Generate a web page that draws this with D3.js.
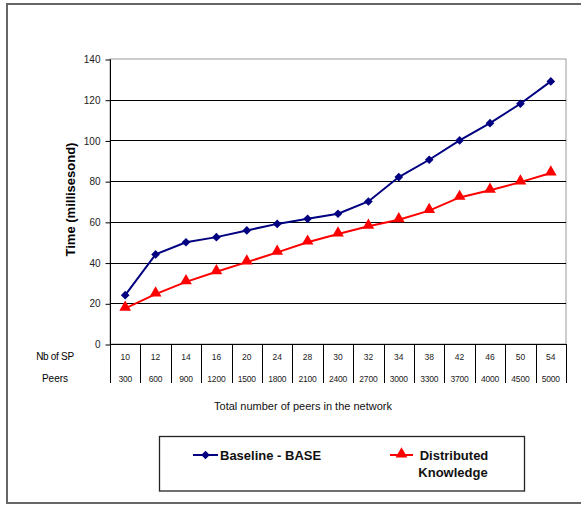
<!DOCTYPE html>
<html>
<head>
<meta charset="utf-8">
<script src="https://cdn.jsdelivr.net/npm/d3@7"></script>
<style>
  html, body { margin: 0; padding: 0; background: #fff; }
  svg { display: block; }
  text { font-family: "Liberation Sans", Arial, sans-serif; }
</style>
</head>
<body>
<svg id="chart" width="581" height="505"></svg>
<script>
// ---- Data ----
const nbSP = ["10","12","14","16","20","24","28","30","32","34","38","42","46","50","54"];
const peers = ["300","600","900","1200","1500","1800","2100","2400","2700","3000","3300","3700","4000","4500","5000"];
const baseline = [24, 44, 50, 52.5, 55.8, 59, 61.5, 64, 70, 82, 90.5, 100, 108.5, 118, 129];
const distributed = [17.5, 24.5, 30.5, 35.5, 40.2, 45, 50, 54, 57.8, 61, 65.5, 72, 75.5, 79.5, 84];
const yTicks = [0, 20, 40, 60, 80, 100, 120, 140];
const seriesNames = ["Baseline - BASE", "Distributed Knowledge"];

// ---- Layout ----
const svg = d3.select("#chart");
const plot = { left: 110, right: 566, top: 59, bottom: 344 };

const x = d3.scaleBand().domain(d3.range(nbSP.length)).range([plot.left, plot.right]).padding(0);
const y = d3.scaleLinear().domain([0, 140]).range([plot.bottom, plot.top]);

// outer frame
svg.append("rect")
  .attr("x", 7).attr("y", 4).attr("width", 600).attr("height", 499)
  .attr("fill", "none").attr("stroke", "#666").attr("stroke-width", 2);

// plot area border (gray)
svg.append("rect")
  .attr("x", plot.left).attr("y", plot.top)
  .attr("width", plot.right - plot.left).attr("height", plot.bottom - plot.top)
  .attr("fill", "none").attr("stroke", "#9a9a9a").attr("stroke-width", 1);

// gridlines
svg.append("g").selectAll("line")
  .data(yTicks.filter(d => d > 0 && d < 140))
  .join("line")
  .attr("x1", plot.left).attr("x2", plot.right)
  .attr("y1", d => Math.round(y(d)) + 0.5).attr("y2", d => Math.round(y(d)) + 0.5)
  .attr("stroke", "#000").attr("stroke-width", 1);

// y axis
const yAxis = d3.axisLeft(y).tickValues(yTicks).tickSize(5).tickPadding(5).tickFormat(d3.format("d"));
const gy = svg.append("g").attr("transform", `translate(${plot.left + 0.5},0.5)`).call(yAxis);
gy.select(".domain").attr("stroke", "#000").attr("d", `M0,${plot.top}V${plot.bottom}`);
gy.selectAll(".tick line").attr("stroke", "#000");
gy.selectAll(".tick text").attr("font-size", 10).attr("fill", "#222")
  .style("font-family", "'Liberation Sans', Arial, sans-serif");

// x axis baseline
svg.append("line")
  .attr("x1", plot.left).attr("x2", plot.right)
  .attr("y1", plot.bottom + 0.5).attr("y2", plot.bottom + 0.5)
  .attr("stroke", "#000").attr("stroke-width", 1.2);

// data table dividers
const dividers = d3.range(nbSP.length + 1).map(i => i < nbSP.length ? x(i) : plot.right);
svg.append("g").selectAll("line")
  .data(dividers)
  .join("line")
  .attr("x1", d => Math.round(d) + 0.5).attr("x2", d => Math.round(d) + 0.5)
  .attr("y1", plot.bottom).attr("y2", 383)
  .attr("stroke", "#000").attr("stroke-width", 1);

// table values
svg.append("g").selectAll("text")
  .data(nbSP)
  .join("text")
  .attr("x", (d, i) => x(i) + x.bandwidth() / 2)
  .attr("y", 360)
  .attr("text-anchor", "middle")
  .attr("font-size", 8.5).attr("fill", "#222")
  .text(d => d);
svg.append("g").selectAll("text")
  .data(peers)
  .join("text")
  .attr("x", (d, i) => x(i) + x.bandwidth() / 2)
  .attr("y", 382)
  .attr("text-anchor", "middle")
  .attr("font-size", 8.5).attr("fill", "#222")
  .attr("letter-spacing", "-0.2")
  .text(d => d);

// row labels
svg.append("text").attr("x", 55).attr("y", 360).attr("text-anchor", "middle")
  .attr("font-size", 10).attr("fill", "#000").attr("letter-spacing", "-0.3").text("Nb of SP");
svg.append("text").attr("x", 55).attr("y", 382).attr("text-anchor", "middle")
  .attr("font-size", 10).attr("fill", "#000").text("Peers");

// axis titles
svg.append("text").attr("x", 303).attr("y", 409.5).attr("text-anchor", "middle")
  .attr("font-size", 11).attr("fill", "#111")
  .text("Total number of peers in the network");
svg.append("text")
  .attr("transform", `translate(75,${(plot.top + plot.bottom) / 2 - 2}) rotate(-90)`)
  .attr("text-anchor", "middle").attr("font-size", 13).attr("font-weight", "bold").attr("fill", "#000")
  .text("Time (millisesond)");

// series
const cx = i => x(i) + x.bandwidth() / 2;
const line = d3.line().x((d, i) => cx(i)).y(d => y(d));

const blue = "#000080", red = "#ff0000";

svg.append("path").datum(baseline).attr("d", line)
  .attr("fill", "none").attr("stroke", blue).attr("stroke-width", 2);
svg.append("path").datum(distributed).attr("d", line)
  .attr("fill", "none").attr("stroke", red).attr("stroke-width", 2);

const diamond = d3.symbol().type(d3.symbolDiamond2).size(48);
const triangle = d3.symbol().type(d3.symbolTriangle).size(60);

svg.append("g").selectAll("path")
  .data(baseline).join("path")
  .attr("transform", (d, i) => `translate(${cx(i)},${y(d)})`)
  .attr("d", diamond).attr("fill", blue);
svg.append("g").selectAll("path")
  .data(distributed).join("path")
  .attr("transform", (d, i) => `translate(${cx(i)},${y(d) - 1})`)
  .attr("d", triangle).attr("fill", red);

// legend
svg.append("rect")
  .attr("x", 159.5).attr("y", 436.5).attr("width", 365).attr("height", 54.5)
  .attr("fill", "#fff").attr("stroke", "#222").attr("stroke-width", 1.3);

const lg = svg.append("g");
lg.append("line").attr("x1", 193).attr("x2", 218).attr("y1", 455).attr("y2", 455)
  .attr("stroke", blue).attr("stroke-width", 2);
lg.append("path").attr("transform", "translate(205.5,455)").attr("d", diamond).attr("fill", blue);
lg.append("text").attr("x", 220).attr("y", 459.5).attr("font-size", 13).attr("font-weight", "bold")
  .attr("fill", "#111").text(seriesNames[0]);

lg.append("line").attr("x1", 390).attr("x2", 413).attr("y1", 455).attr("y2", 455)
  .attr("stroke", red).attr("stroke-width", 2);
lg.append("path").attr("transform", "translate(401.5,454)").attr("d", triangle).attr("fill", red);
const words = seriesNames[1].split(" ");
lg.append("text").attr("x", 454).attr("y", 459.5).attr("text-anchor", "middle").attr("font-size", 13)
  .attr("font-weight", "bold").attr("fill", "#111").text(words[0]);
lg.append("text").attr("x", 453).attr("y", 476.5).attr("text-anchor", "middle").attr("font-size", 13)
  .attr("font-weight", "bold").attr("fill", "#111").text(words[1]);
</script>
</body>
</html>
